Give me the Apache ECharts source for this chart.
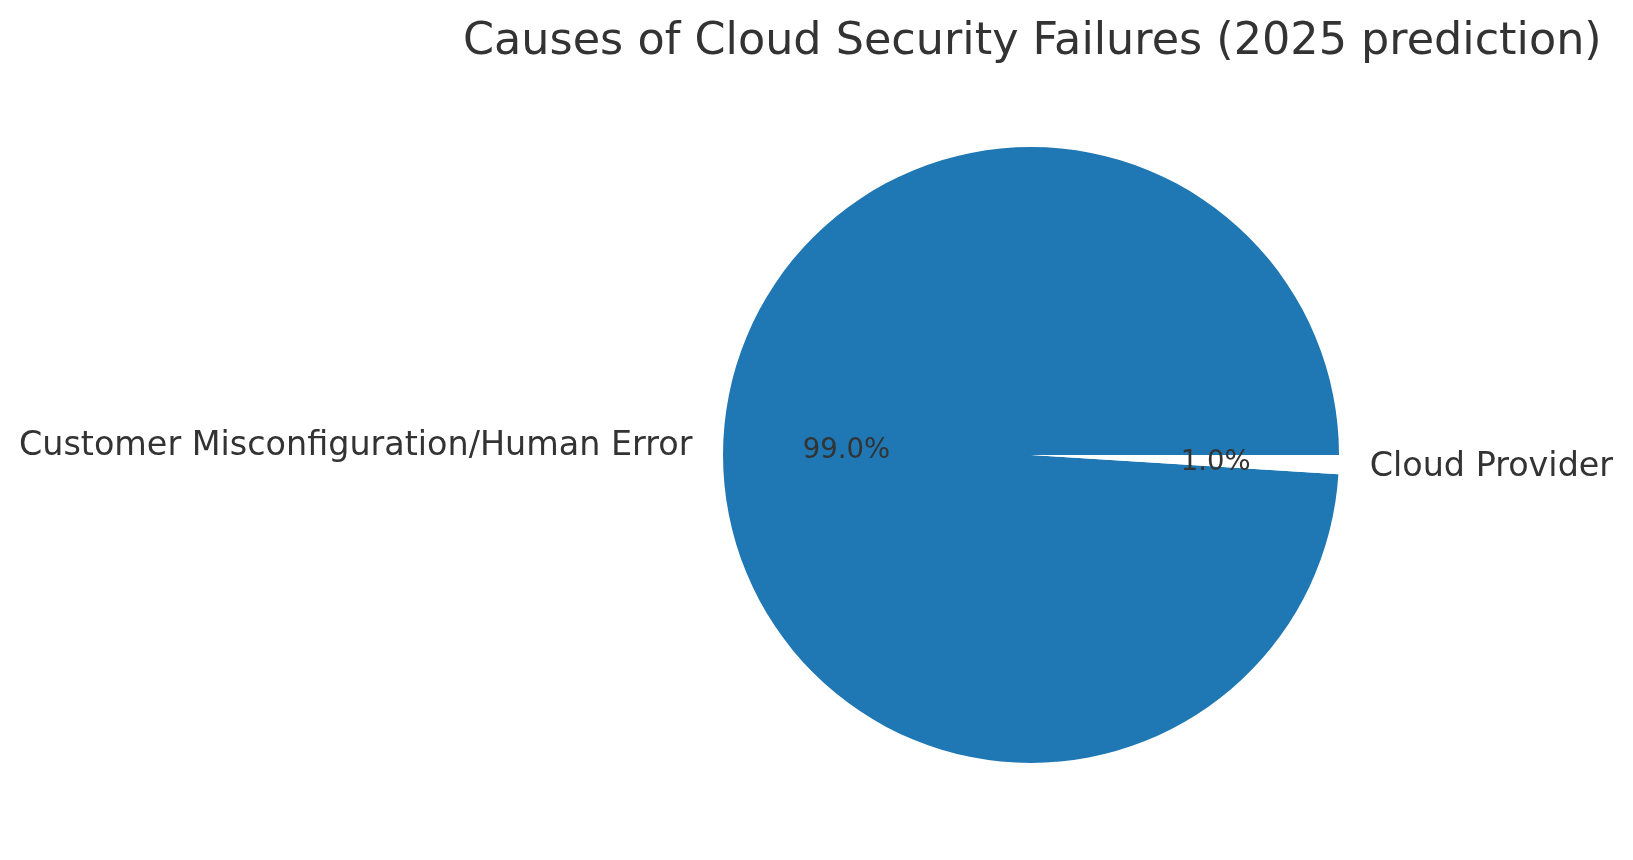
<!DOCTYPE html>
<html>
<head>
<meta charset="utf-8">
<script src="https://cdn.jsdelivr.net/npm/echarts@6/dist/echarts.min.js"></script>
<style>
  html, body { margin: 0; padding: 0; background: #fff; }
</style>
</head>
<body>
<div id="chart" style="width: 1633px; height: 860px"></div>
<script>
var titleText = 'Causes of Cloud Security Failures (2025 prediction)'
var categories = ['Customer Misconfiguration/Human Error', 'Cloud Provider']
var values = [99, 1]
var colors = ['#1f77b4', '#ffffff']

var R = 308 // pie radius px
var center = [1031, 455]
var textColor = '#333333'
var font = 'DejaVu Sans'

var total = values.reduce(function (a, b) { return a + b }, 0)
var pieData = categories.map(function (c, i) {
  return { name: c, value: values[i], itemStyle: { color: colors[i] } }
})
// same slices, invisible, only used to put the % text near 0.6 R
var pctData = categories.map(function (c, i) {
  return { name: c, value: values[i] }
})

var myChart = echarts.init(document.getElementById('chart'))
var option = {
  animation: false,
  title: {
    text: titleText,
    left: 458, // centred over the pie, not the page
    top: 15,
    textStyle: { fontFamily: font, fontSize: 44.5, fontWeight: 'normal', color: textColor }
  },
  series: [
    {
      type: 'pie',
      center: center,
      radius: [0, R],
      startAngle: 0,
      clockwise: false,
      avoidLabelOverlap: false,
      silent: true,
      data: pieData,
      label: {
        show: true,
        position: 'outside',
        formatter: '{b}',
        fontFamily: font,
        fontSize: 33.4,
        color: textColor,
        offset: [0, 2]
      },
      labelLine: { show: false, length: R * 0.1 - 5, length2: 0 },
      emphasis: { disabled: true }
    },
    {
      type: 'pie',
      center: center,
      radius: [0, R * 1.18],
      startAngle: 0,
      clockwise: false,
      avoidLabelOverlap: false,
      silent: true,
      data: pctData,
      itemStyle: { color: 'rgba(0,0,0,0)' },
      label: {
        show: true,
        position: 'inside',
        formatter: function (p) { return (p.value / total * 100).toFixed(1) + '%' },
        fontFamily: font,
        fontSize: 27.5,
        color: textColor,
        offset: [0, 2]
      },
      labelLine: { show: false },
      emphasis: { disabled: true }
    }
  ]
}
myChart.setOption(option)
</script>
</body>
</html>
